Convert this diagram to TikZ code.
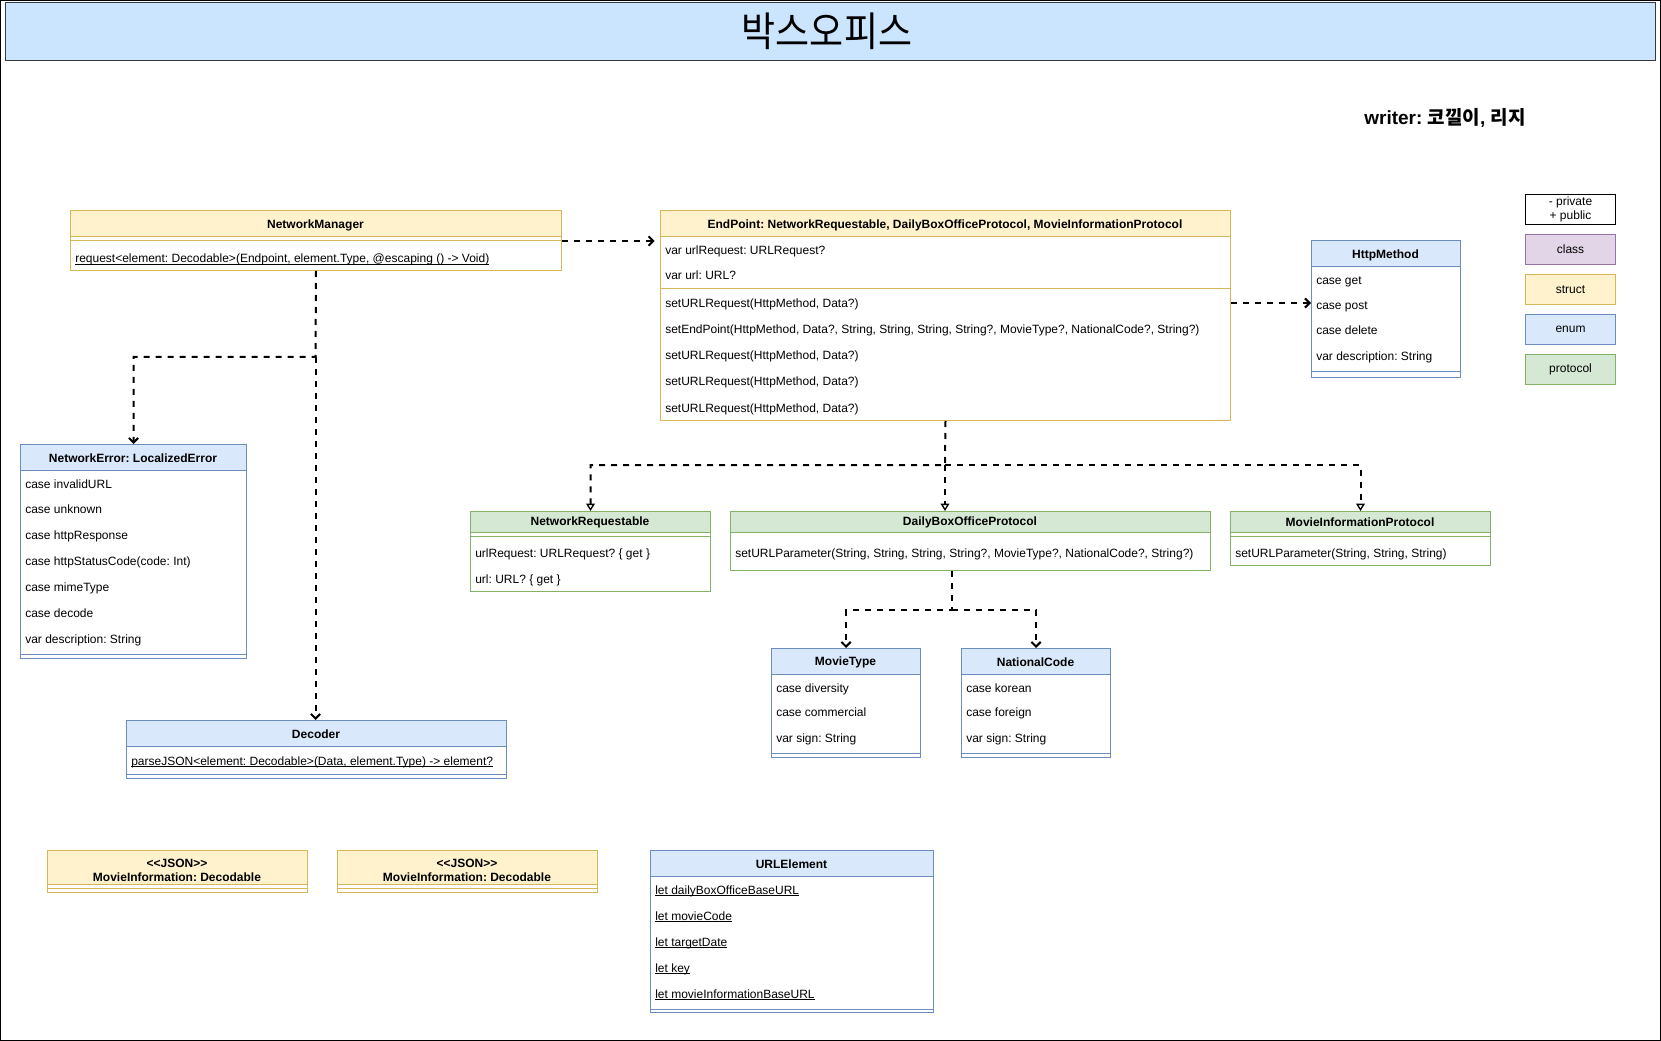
\documentclass[tikz,border=0pt]{standalone}
\usepackage{graphicx}
\usepackage{fontspec}
\setmainfont{Liberation Sans}
\newfontfamily\cjk{Noto Sans CJK KR}
\usetikzlibrary{arrows.meta}
\frenchspacing

\definecolor{structfill}{HTML}{FFF2CC}\definecolor{structline}{HTML}{D6B656}
\definecolor{enumfill}{HTML}{DAE8FC}\definecolor{enumline}{HTML}{6C8EBF}
\definecolor{protofill}{HTML}{D5E8D4}\definecolor{protoline}{HTML}{82B366}
\definecolor{classfill}{HTML}{E1D5E7}\definecolor{classline}{HTML}{9673A6}
\definecolor{titlefill}{HTML}{CCE5FF}\definecolor{titleline}{HTML}{36393D}

% underlined member (static) text
\newsavebox\ulinebox
\newcommand\ulined[1]{\sbox\ulinebox{#1}\usebox\ulinebox\llap{\rule[-1.5pt]{\wd\ulinebox}{0.6pt}}}

% class box: name, x, y, width, height, header height, fill, stroke
\newcommand\umlframe[8]{%
  \node[boxframe=#8, minimum width={#4*0.75pt}, minimum height={#5*0.75pt}] (#1) at (#2,#3) {};
  \draw[draw=#8, fill=#7, line width=0.75pt] (#2,#3) rectangle ++(#4,#6);
}

\tikzset{
  headtxt/.style={font=\fontsize{9}{11}\selectfont\bfseries, inner sep=0pt},
  rowtxt/.style={font=\fontsize{9}{11}\selectfont, inner sep=0pt, anchor=base west},
  boxframe/.style={draw=#1, fill=white, line width=0.75pt, inner sep=0pt, anchor=north west},
  legendbox/.style 2 args={draw=#2, fill=#1, line width=0.75pt, inner sep=0pt, anchor=north west,
    minimum width=67.5pt, minimum height=22.5pt, align=center, font=\fontsize{9}{10.5}\selectfont},
  sepline/.style={draw=#1, line width=0.75pt},
  dep/.style={line width=1.5pt, dash pattern=on 4.5pt off 4.5pt,
    -{Straight Barb[length=3.5pt,width=7pt]}},
  real/.style={line width=1.5pt, dash pattern=on 4.5pt off 4.5pt,
    -{Triangle[open,length=5.5pt,width=6.5pt,line width=1pt]}},
}

\begin{document}
\begin{tikzpicture}[x=0.75pt, y=-0.75pt]
\useasboundingbox (0,0) rectangle (1661,1041);
\draw[line width=1pt, black] (0.7,0.7) rectangle (1660.3,1040.3);

% title band
\node[draw=titleline, fill=titlefill, line width=1pt, inner sep=0pt, anchor=north west,
      minimum width={1650*0.75pt}, minimum height={58*0.75pt}] (title) at (5,2) {};
\node[inner sep=0pt, font=\cjk\fontsize{30.5}{30.5}\selectfont] (titletext) at (827,31) {\scalebox{0.91}[1]{박스오피스}};
\node[inner sep=0pt, font=\fontsize{14.25}{16}\selectfont\bfseries] (writer) at (1445,118)
  {writer: {\cjk\bfseries 코낄이}, {\cjk\bfseries 리지}};

% legend
\node[legendbox={white}{black}] (lgaccess) at (1525,194) {- private\\+ public};
\node[legendbox={classfill}{classline}] (lgclass) at (1525,234) {class};
\node[legendbox={structfill}{structline}] (lgstruct) at (1525,274) {struct};
\node[legendbox={enumfill}{enumline}] (lgenum) at (1525,314) {enum};
\node[legendbox={protofill}{protoline}] (lgproto) at (1525,354) {protocol};

% NetworkManager
\umlframe{nm}{70}{211}{491}{59}{26}{structfill}{structline}
\node[headtxt] at (315.5,225) {NetworkManager};
\draw[sepline=structline] (70,241) -- ++(491,0);
\node[rowtxt] at (75,263) {\ulined{request<element: Decodable>(Endpoint, element.Type, @escaping () -> Void)}};

% EndPoint
\umlframe{ep}{660}{211}{570}{209}{26}{structfill}{structline}
\node[headtxt] at (945,225) {EndPoint: NetworkRequestable, DailyBoxOfficeProtocol, MovieInformationProtocol};
\node[rowtxt] at (665,255) {var urlRequest: URLRequest?};
\node[rowtxt] at (665,280) {var url: URL?};
\draw[sepline=structline] (660,289) -- ++(570,0);
\node[rowtxt] at (665,308) {setURLRequest(HttpMethod, Data?)};
\node[rowtxt] at (665,334) {setEndPoint(HttpMethod, Data?, String, String, String, String?, MovieType?, NationalCode?, String?)};
\node[rowtxt] at (665,360) {setURLRequest(HttpMethod, Data?)};
\node[rowtxt] at (665,386) {setURLRequest(HttpMethod, Data?)};
\node[rowtxt] at (665,412) {setURLRequest(HttpMethod, Data?)};

% HttpMethod
\umlframe{hm}{1311}{241}{149}{136}{26}{enumfill}{enumline}
\node[headtxt] at (1385.5,255) {HttpMethod};
\node[rowtxt] at (1316,284.5) {case get};
\node[rowtxt] at (1316,309.5) {case post};
\node[rowtxt] at (1316,335) {case delete};
\node[rowtxt] at (1316,360.5) {var description: String};
\draw[sepline=enumline] (1311,372) -- ++(149,0);

% NetworkError
\umlframe{ne}{20}{444}{226}{214}{26}{enumfill}{enumline}
\node[headtxt] at (133,458) {NetworkError: LocalizedError};
\node[rowtxt] at (25,488) {case invalidURL};
\node[rowtxt] at (25,513) {case unknown};
\node[rowtxt] at (25,539) {case httpResponse};
\node[rowtxt] at (25,565) {case httpStatusCode(code: Int)};
\node[rowtxt] at (25,591) {case mimeType};
\node[rowtxt] at (25,617) {case decode};
\node[rowtxt] at (25,643) {var description: String};
\draw[sepline=enumline] (20,654) -- ++(226,0);

% Decoder
\umlframe{dec}{126}{720}{380}{58}{26}{enumfill}{enumline}
\node[headtxt] at (316,734) {Decoder};
\node[rowtxt] at (131,765) {\ulined{parseJSON<element: Decodable>(Data, element.Type) -> element?}};
\draw[sepline=enumline] (126,774) -- ++(380,0);

% NetworkRequestable
\umlframe{nr}{470}{511}{240}{80}{21}{protofill}{protoline}
\node[headtxt] at (590,522.5) {NetworkRequestable};
\draw[sepline=protoline] (470,536) -- ++(240,0);
\node[rowtxt] at (475,557) {urlRequest: URLRequest? \{ get \}};
\node[rowtxt] at (475,583) {url: URL? \{ get \}};

% DailyBoxOfficeProtocol
\umlframe{dbop}{730}{511}{480}{59}{21}{protofill}{protoline}
\node[headtxt] at (970,522.5) {DailyBoxOfficeProtocol};
\node[rowtxt] at (735,557) {setURLParameter(String, String, String, String?, MovieType?, NationalCode?, String?)};

% MovieInformationProtocol
\umlframe{mip}{1230}{511}{260}{54}{21}{protofill}{protoline}
\node[headtxt] at (1360,522.5) {MovieInformationProtocol};
\draw[sepline=protoline] (1230,536) -- ++(260,0);
\node[rowtxt] at (1235,557) {setURLParameter(String, String, String)};

% MovieType
\umlframe{mt}{771}{648}{149}{109}{26}{enumfill}{enumline}
\node[headtxt] at (845.5,662) {MovieType};
\node[rowtxt] at (776,692) {case diversity};
\node[rowtxt] at (776,716) {case commercial};
\node[rowtxt] at (776,742) {var sign: String};
\draw[sepline=enumline] (771,753) -- ++(149,0);

% NationalCode
\umlframe{nc}{961}{648}{149}{109}{26}{enumfill}{enumline}
\node[headtxt] at (1035.5,662) {NationalCode};
\node[rowtxt] at (966,692) {case korean};
\node[rowtxt] at (966,716) {case foreign};
\node[rowtxt] at (966,742) {var sign: String};
\draw[sepline=enumline] (961,753) -- ++(149,0);

% JSON models
\umlframe{jsonA}{47}{850}{260}{42}{34}{structfill}{structline}
\node[headtxt, align=center, font=\fontsize{9}{10.5}\selectfont\bfseries] at (177,870.5) {<{}<JSON>{}>\\MovieInformation: Decodable};
\draw[sepline=structline] (47,888) -- ++(260,0);
\umlframe{jsonB}{337}{850}{260}{42}{34}{structfill}{structline}
\node[headtxt, align=center, font=\fontsize{9}{10.5}\selectfont\bfseries] at (467,870.5) {<{}<JSON>{}>\\MovieInformation: Decodable};
\draw[sepline=structline] (337,888) -- ++(260,0);

% URLElement
\umlframe{ue}{650}{850}{283}{162}{26}{enumfill}{enumline}
\node[headtxt] at (791.5,864) {URLElement};
\node[rowtxt] at (655,894) {\ulined{let dailyBoxOfficeBaseURL}};
\node[rowtxt] at (655,920) {\ulined{let movieCode}};
\node[rowtxt] at (655,946) {\ulined{let targetDate}};
\node[rowtxt] at (655,972) {\ulined{let key}};
\node[rowtxt] at (655,998) {\ulined{let movieInformationBaseURL}};
\draw[sepline=enumline] (650,1009) -- ++(283,0);

% connectors
\coordinate (nmsplit) at (315.5,357);
\coordinate (epbus) at (945,465);
\coordinate (dbsplit) at (951.5,610);

\draw[dep, shorten >=4pt] (nm.east) -- (nm.east -| ep.west);
\draw[dep] (nm.south) -- (nmsplit) -| (ne.north);
\draw[dep] (nmsplit) -- (nmsplit |- dec.north);
\draw[dep] (ep.east |- 0,303) -- (hm.west |- 0,303);

\draw[real] (ep.south) -- (epbus) -| (nr.north);
\draw[real] (epbus) -| (mip.north);
\draw[real] (epbus) -- (epbus |- dbop.north);

\draw[dep] (dbop.south -| dbsplit) -- (dbsplit) -| (mt.north);
\draw[dep] (dbsplit) -| (nc.north);
\end{tikzpicture}
\end{document}
